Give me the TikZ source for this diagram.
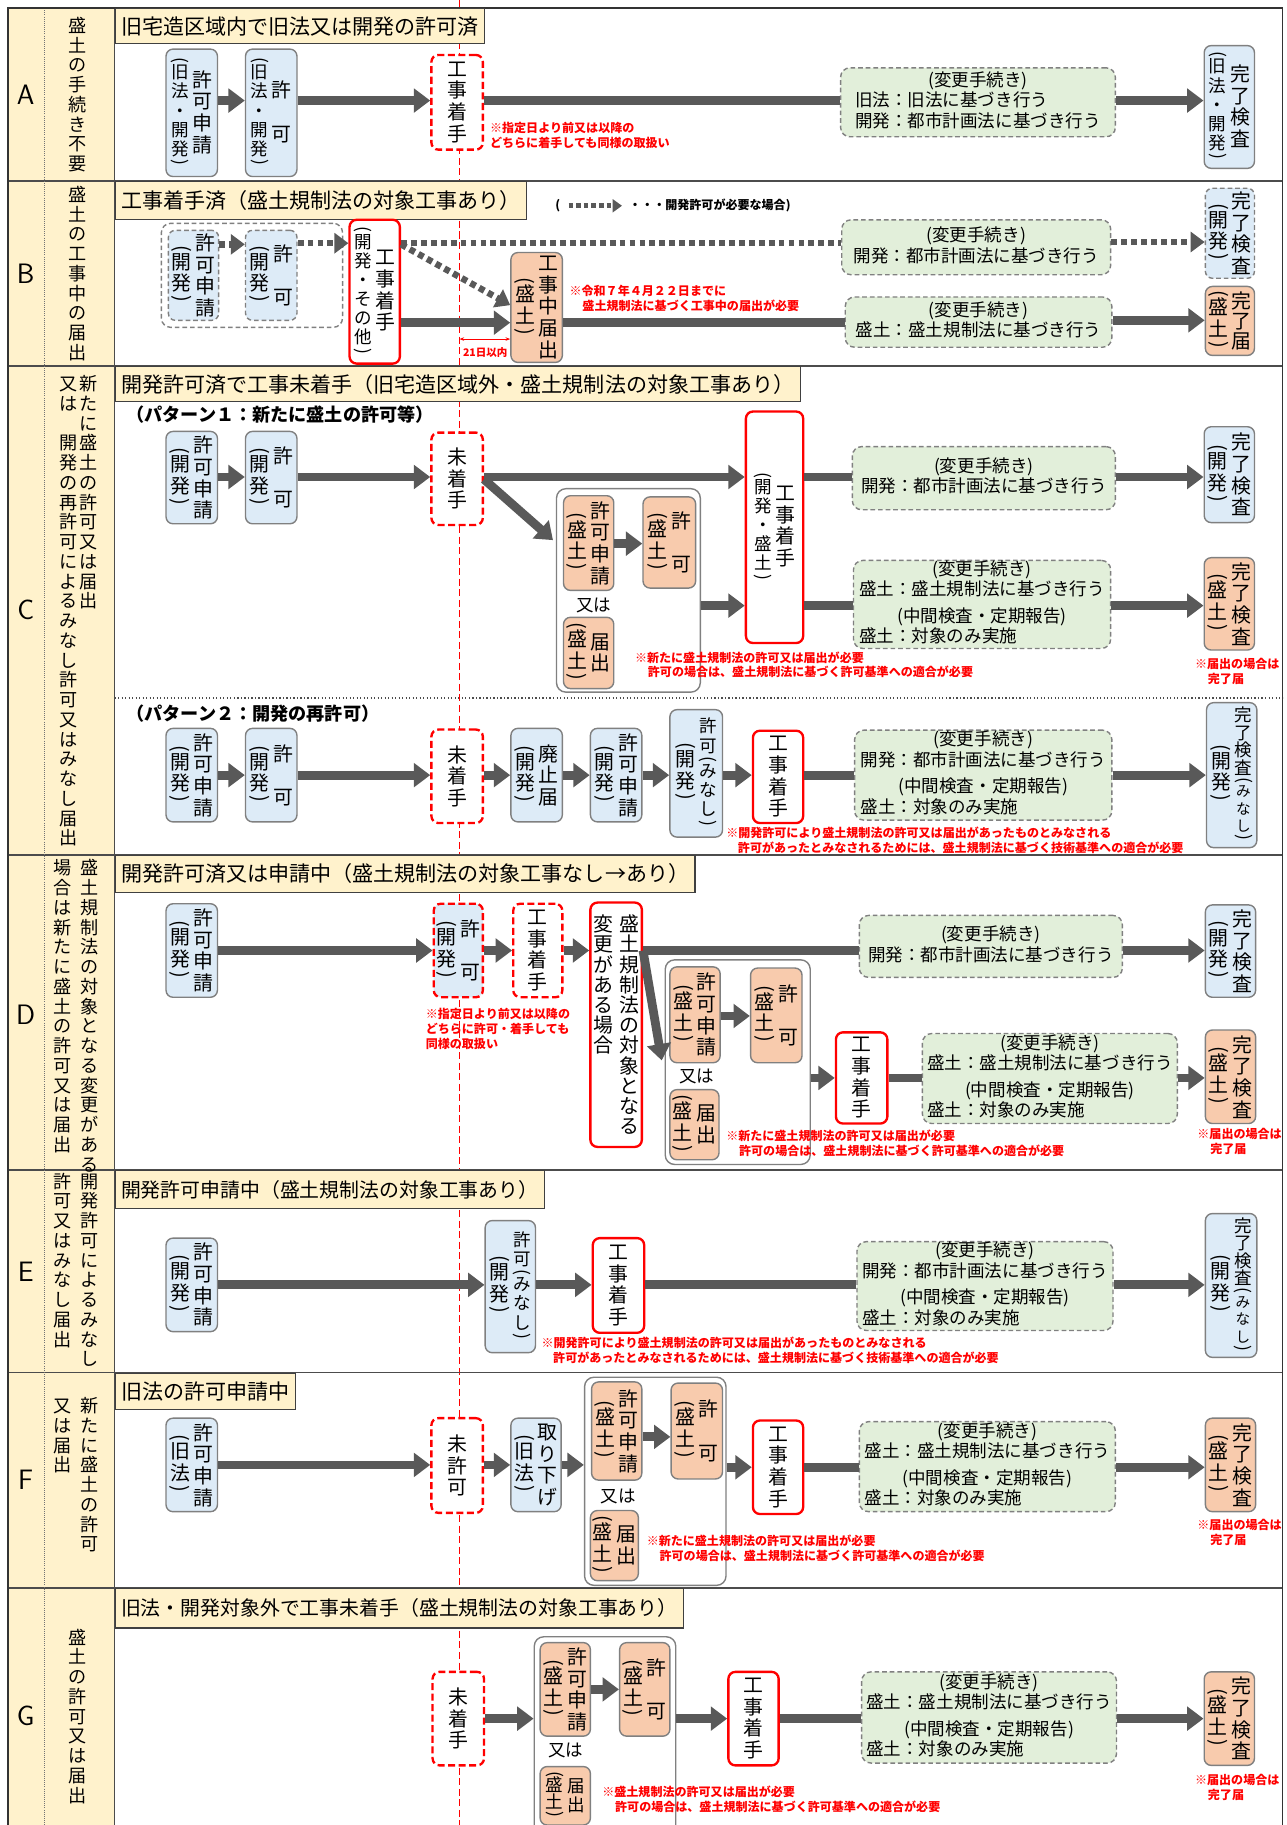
\documentclass[tikz,border=0pt]{standalone}
\usepackage{fontspec}
\setmainfont{Noto Sans CJK JP}
\usepackage{graphicx}
\usetikzlibrary{arrows.meta}

\definecolor{kaiblue}{RGB}{221,235,247}
\definecolor{moriorange}{RGB}{248,203,173}
\definecolor{chggreen}{RGB}{226,239,218}
\definecolor{headcream}{RGB}{255,242,204}
\definecolor{boxgray}{RGB}{128,128,128}
\definecolor{arrowgray}{RGB}{89,89,89}
\definecolor{notered}{RGB}{255,0,0}

\newcommand\boxfont{\fontsize{17}{18.5}\selectfont}
\newcommand\subsz{\fontsize{15}{16.4}\selectfont}
\newcommand\chgfont{\fontsize{15}{16.5}\selectfont}
\newcommand\hdrfont{\fontsize{18}{20}\selectfont}
\newcommand\notefont{\bfseries\fontsize{10.3}{12.8}\selectfont}
\newcommand\descfont{\fontsize{15.5}{16.9}\selectfont}
\newcommand\lettfont{\sffamily\fontsize{24}{24}\selectfont}
\newcommand\orfont{\fontsize{15}{15}\selectfont}
\newcommand\plabfont{\bfseries\fontsize{15.5}{17}\selectfont}

% vertical text: one character per row
\newcommand\vbody[2]{\baselineskip=#1\lineskip=0pt\lineskiplimit=-50pt%
  \let\\\cr\halign{\hfil##\hfil\cr#2\crcr}}
\newcommand\vcol[2][1.09em]{$\vcenter{\vbody{#1}{#2}}$}
\newcommand\vcolt[2][1.09em]{\vtop{\vbody{#1}{#2}}}
\newcommand\vlp{\rotatebox[origin=c]{-90}{(}\cr\noalign{\vskip-0.36em}}
\newcommand\vrp{\cr\noalign{\vskip-0.36em}\rotatebox[origin=c]{-90}{)}}
\newcommand\vlpi{\cr\noalign{\vskip-0.36em}\vlp}
\newcommand\smsz[1]{{\fontsize{12.5}{12.5}\selectfont #1}}

% green boxes
\newcommand\chgc[1]{\multicolumn{1}{@{}c@{}}{#1}}
\newcommand\chgtab[1]{\begin{tabular}{@{}l@{}}\chgc{(変更手続き)}\\#1\end{tabular}}
\newcommand\kailine{開発：都市計画法に基づき行う}
\newcommand\moriline{盛土：盛土規制法に基づき行う}
\newcommand\chukan{\\[5pt]\chgc{(中間検査・定期報告)}\\盛土：対象のみ実施}

% notes
\newcommand\notemori{※新たに盛土規制法の許可又は届出が必要\\\hspace*{11pt}許可の場合は、盛土規制法に基づく許可基準への適合が必要}
\newcommand\notekai{※開発許可により盛土規制法の許可又は届出があったものとみなされる\\\hspace*{10pt}許可があったとみなされるためには、盛土規制法に基づく技術基準への適合が必要}
\newcommand\notedone{※届出の場合は\\\hspace*{11pt}完了届}

\begin{document}
\begin{tikzpicture}[x=1pt, y=-1pt,
    box/.style={rounded corners=6pt, draw=boxgray, line width=1.2pt,
      minimum width=44pt, minimum height=80pt, inner sep=0pt, font=\boxfont},
    kai/.style={box, fill=kaiblue},
    kaid/.style={kai, dash pattern=on 4pt off 2.5pt},
    mori/.style={box, fill=moriorange},
    redbox/.style={box, draw=notered, line width=2pt, fill=white},
    reddash/.style={redbox, dash pattern=on 6pt off 3pt},
    kaired/.style={reddash, fill=kaiblue},
    chg/.style={rounded corners=8pt, draw=boxgray, line width=1.2pt,
      dash pattern=on 4pt off 2.5pt, fill=chggreen, inner sep=0pt, font=\chgfont},
    grp/.style={rounded corners=8pt, draw=boxgray, line width=1.2pt, fill=white},
    grpd/.style={rounded corners=8pt, draw=boxgray, line width=1.2pt,
      dash pattern=on 4pt off 2.5pt},
    hdr/.style={draw=black!75, line width=1pt, fill=headcream, anchor=north west,
      font=\hdrfont, inner xsep=5pt, minimum height=30pt},
    note/.style={text=notered, font=\notefont, align=left, anchor=north west, inner sep=0pt},
    desc/.style={font=\descfont, inner sep=0pt},
    lett/.style={font=\lettfont},
    orlab/.style={font=\orfont, inner sep=0pt},
    plab/.style={font=\plabfont, anchor=west, inner sep=0pt},
    flow/.style={draw=arrowgray, line width=7.5pt, -{Triangle[length=14pt,width=20pt]}},
    link/.style={draw=arrowgray, line width=7.5pt},
    dotlink/.style={draw=arrowgray, line width=5.5pt, dash pattern=on 5pt off 3.5pt},
    dotflow/.style={dotlink, -{Triangle[length=12pt,width=17pt]}},
    dotleg/.style={draw=arrowgray, line width=4pt, dash pattern=on 4pt off 2.5pt,
      -{Triangle[length=8pt,width=11pt]}, shorten <=7pt, shorten >=6pt},
    red21/.style={draw=notered, line width=0.8pt, {Stealth[length=4pt]}-{Stealth[length=4pt]}},
  ]
  \useasboundingbox (0,0) rectangle (1100,1561);

  % frame
  \fill[headcream] (7,7) rectangle (98,1561);
  \draw[notered, line width=1.2pt, dash pattern=on 6pt off 3pt] (393,0) -- (393,1561);
  \foreach \yy in {155,313,731,1001,1174,1358}
    \draw[black!70, line width=1.5pt] (7,\yy) -- (1097,\yy);
  \draw[black!55, densely dotted, line width=0.8pt] (38,7) -- (38,1561);
  \draw[black!70, dotted, line width=1pt] (98,597) -- (1097,597);
  \draw[black!70, line width=1.5pt] (98,7) -- (98,1561);
  \draw[black!80, line width=1.5pt] (7,7) rectangle (1097,1570);

  % left column
  \foreach \rowname/\rowy in {A/81,B/234,C/522,D/868,E/1088,F/1266,G/1468}
    \node[lett] (L\rowname) at (22,\rowy) {\rowname};
  \node[desc] (DA) at (66,81) {\vcol{盛\\土\\の\\手\\続\\き\\不\\要}};
  \node[desc] (DB) at (66,234) {\vcol{盛\\土\\の\\工\\事\\中\\の\\届\\出}};
  \node[desc, anchor=north] (DC) at (67,321)
    {\vcolt{又\\は\\　\\開\\発\\の\\再\\許\\可\\に\\よ\\る\\み\\な\\し\\許\\可\\又\\は\\み\\な\\し\\届\\出}\hspace{2pt}\vcolt{新\\た\\に\\盛\\土\\の\\許\\可\\又\\は\\届\\出}};
  \node[desc, anchor=north] (DD) at (65,735)
    {\vcolt{場\\合\\は\\新\\た\\に\\盛\\土\\の\\許\\可\\又\\は\\届\\出}\hspace{7pt}\vcolt{盛\\土\\規\\制\\法\\の\\対\\象\\と\\な\\る\\変\\更\\が\\あ\\る}};
  \node[desc, anchor=north] (DE) at (65,1003)
    {\vcolt{許\\可\\又\\は\\み\\な\\し\\届\\出}\hspace{7pt}\vcolt{開\\発\\許\\可\\に\\よ\\る\\み\\な\\し}};
  \node[desc, anchor=north] (DF) at (65,1195)
    {\vcolt{又\\は\\届\\出}\hspace{7pt}\vcolt{新\\た\\に\\盛\\土\\の\\許\\可}};
  \node[desc] (DG) at (66,1468) {\vcol{盛\\土\\の\\許\\可\\又\\は\\届\\出}};

  % headers
  \node[hdr] (hA) at (98,7) {旧宅造区域内で旧法又は開発の許可済};
  \node[hdr, minimum height=32pt] (hB) at (98,155) {工事着手済（盛土規制法の対象工事あり）};
  \node[hdr] (hC) at (98,313) {開発許可済で工事未着手（旧宅造区域外・盛土規制法の対象工事あり）};
  \node[hdr, minimum height=32pt] (hD) at (98,731) {開発許可済又は申請中（盛土規制法の対象工事なし→あり）};
  \node[hdr, minimum height=32pt, font=\fontsize{17}{19}\selectfont] (hE) at (98,1001) {開発許可申請中（盛土規制法の対象工事あり）};
  \node[hdr, minimum height=31pt] (hF) at (98,1174) {旧法の許可申請中};
  \node[hdr, minimum height=34pt, font=\fontsize{17}{19}\selectfont] (hG) at (98,1358) {旧法・開発対象外で工事未着手（盛土規制法の対象工事あり）};

  % --- A ---
  \node[kai, minimum height=109pt] (A1) at (164,96.5)
    {{\subsz\vcol{\vlp 旧\\法\\・\\開\\発\vrp}}\hspace{3pt}\vcol{許\\可\\申\\請}};
  \node[kai, minimum height=109pt] (A2) at (232,96.5)
    {{\subsz\vcol{\vlp 旧\\法\\・\\開\\発\vrp}}\hspace{3pt}\vcol{許\\　\\可}};
  \node[reddash, minimum height=81pt] (Ako) at (391,87.5) {\vcol{工\\事\\着\\手}};
  \node[chg, minimum width=235pt, minimum height=59pt] (Ag) at (836.5,87.5)
    {\chgtab{旧法：旧法に基づき行う\\\kailine}};
  \node[kai, minimum width=43pt, minimum height=105pt] (Ak) at (1051.5,91.5)
    {{\subsz\vcol{\vlp 旧\\法\\・\\開\\発\vrp}}\hspace{3pt}\vcol{完\\了\\検\\査}};
  \node[note] (nA) at (419,104) {※指定日より前又は以降の\\どちらに着手しても同様の取扱い};

  \draw[flow] (A1.east |- 0,86) -- (A2.west |- 0,86);
  \draw[flow] (A2.east |- 0,86) -- (Ako.west |- 0,86);
  \draw[link] (Ako.east |- 0,86) -- (Ag.west |- 0,86);
  \draw[flow] (Ag.east |- 0,86) -- (Ak.west |- 0,86);

  % --- B ---
  \node[inner sep=0pt, font=\notefont] (Blp) at (477,176) {(};
  \node[inner sep=0pt, font=\notefont, anchor=west] (Blt) at (538,176) {・・・開発許可が必要な場合)};
  \draw[dotleg] (Blp.east) -- (Blt.west);

  \node[grpd, minimum width=155pt, minimum height=89pt] (Bg) at (215.5,235.5) {};
  \node[kaid, minimum width=43pt, minimum height=77pt] (B1) at (165.5,235.5)
    {\vcol{\vlp 開\\発\vrp}\hspace{3pt}\vcol{許\\可\\申\\請}};
  \node[kaid, minimum height=77pt] (B2) at (232,235.5)
    {\vcol{\vlp 開\\発\vrp}\hspace{3pt}\vcol{許\\　\\可}};
  \node[redbox, minimum width=43pt, minimum height=123pt] (B3) at (320.5,249.5)
    {{\subsz\vcol{\vlp 開\\発\\・\\そ\\の\\他\vrp}}\hspace{3pt}\vcol{工\\事\\着\\手}};
  \node[mori, minimum height=94pt] (B4) at (459,263)
    {\vcol{\vlp 盛\\土\vrp}\hspace{3pt}\vcol{工\\事\\中\\届\\出}};
  \node[chg, minimum width=230pt, minimum height=47pt] (Bgt) at (835,211.5) {\chgtab{\kailine}};
  \node[chg, minimum width=228pt, minimum height=43pt] (Bgb) at (837,275.5) {\chgtab{\moriline}};
  \node[kaid, minimum width=42pt, minimum height=77pt] (Bk1) at (1052,199.5)
    {\vcol{\vlp 開\\発\vrp}\hspace{3pt}\vcol{完\\了\\検\\査}};
  \node[mori, minimum width=42pt, minimum height=59pt] (Bk2) at (1052,274.5)
    {\vcol{\vlp 盛\\土\vrp}\hspace{3pt}\vcol[17pt]{完\\了\\届}};
  \node[note] (nB) at (487,244) {※令和７年４月２２日までに\\\hspace*{11pt}盛土規制法に基づく工事中の届出が必要};
  \coordinate (B21) at (393,290);
  \node[note, anchor=north, font=\bfseries\fontsize{9}{10}\selectfont] (B21t) at (415,297) {21日以内};

  \draw[dotflow] (B1.east |- 0,209) -- (B2.west |- 0,209);
  \draw[dotflow] (B2.east |- 0,208) -- (B3.west |- 0,208);
  \draw[dotlink] (B3.east |- 0,208) -- (Bgt.west |- 0,208);
  \draw[dotflow] (Bgt.east |- 0,207) -- (Bk1.west |- 0,207);
  \draw[dotflow] (B3.east |- 0,209) -- (B4.west |- 0,261);
  \draw[flow] (B3.east |- 0,276) -- (B4.west |- 0,276);
  \draw[link] (B4.east |- 0,276) -- (Bgb.west |- 0,276);
  \draw[flow] (Bgb.east |- 0,274) -- (Bk2.west |- 0,274);
  \draw[red21] (B21) -- (B21 -| B4.west);

  % --- C pattern 1 ---
  \node[plab] (Cp1) at (108,355) {（パターン１：新たに盛土の許可等）};
  \node[kai, minimum height=79pt] (C1) at (164,408.5)
    {\vcol{\vlp 開\\発\vrp}\hspace{3pt}\vcol{許\\可\\申\\請}};
  \node[kai, minimum height=79pt] (C2) at (232,408.5)
    {\vcol{\vlp 開\\発\vrp}\hspace{3pt}\vcol{許\\　\\可}};
  \node[reddash, minimum height=79pt] (Cmi) at (391,409.5) {\vcol{未\\着\\手}};
  \node[grp, minimum width=123pt, minimum height=174pt] (Cg) at (537.5,505) {};
  \node[mori, minimum width=43pt, minimum height=81pt] (C3) at (503.5,464.5)
    {\vcol{\vlp 盛\\土\vrp}\hspace{3pt}\vcol{許\\可\\申\\請}};
  \node[mori, minimum width=45pt, minimum height=78pt] (C4) at (572.5,464)
    {\vcol{\vlp 盛\\土\vrp}\hspace{3pt}\vcol{許\\　\\可}};
  \node[orlab] (Cor) at (508,518) {又は};
  \node[mori, minimum width=43pt, minimum height=61pt] (C5) at (503.5,558.5)
    {\vcol{\vlp 盛\\土\vrp}\hspace{3pt}\vcol{届\\出}};
  \node[redbox, minimum width=49pt, minimum height=198pt] (C6) at (662.5,451)
    {{\subsz\vcol{\vlp 開\\発\\・\\盛\\土\vrp}}\hspace{3pt}\vcol{工\\事\\着\\手}};
  \node[chg, minimum width=225pt, minimum height=54pt] (Cgt) at (841.5,409) {\chgtab{\kailine}};
  \node[chg, minimum width=220pt, minimum height=72pt] (Cgb) at (840,517) {\chgtab{\moriline\chukan}};
  \node[kai, minimum width=43pt, minimum height=82pt] (Ck1) at (1051.5,406)
    {\vcol{\vlp 開\\発\vrp}\hspace{3pt}\vcol{完\\了\\検\\査}};
  \node[mori, minimum width=43pt, minimum height=79pt] (Ck2) at (1051.5,516.5)
    {\vcol{\vlp 盛\\土\vrp}\hspace{3pt}\vcol{完\\了\\検\\査}};
  \node[note] (nC1) at (543,557) {\notemori};
  \node[note] (nC2) at (1022,563) {\notedone};
  \coordinate (Cin) at (473,462);

  \draw[flow] (C1.east |- 0,408) -- (C2.west |- 0,408);
  \draw[flow] (C2.east |- 0,408) -- (Cmi.west |- 0,408);
  \draw[flow] (Cmi.east |- 0,408) -- (C6.west |- 0,408);
  \draw[flow] (Cmi.east |- 0,410) -- (Cin);
  \draw[flow] (C3.east |- 0,465) -- (C4.west |- 0,465);
  \draw[flow] (Cg.east |- 0,518) -- (C6.west |- 0,518);
  \draw[link] (C6.east |- 0,408) -- (Cgt.west |- 0,408);
  \draw[flow] (Cgt.east |- 0,408) -- (Ck1.west |- 0,408);
  \draw[link] (C6.east |- 0,518) -- (Cgb.west |- 0,518);
  \draw[flow] (Cgb.east |- 0,518) -- (Ck2.west |- 0,518);

  % --- C pattern 2 ---
  \node[plab] (Cp2) at (108,610) {（パターン２：開発の再許可）};
  \node[kai] (C7) at (164,663) {\vcol{\vlp 開\\発\vrp}\hspace{3pt}\vcol{許\\可\\申\\請}};
  \node[kai] (C8) at (232,663) {\vcol{\vlp 開\\発\vrp}\hspace{3pt}\vcol{許\\　\\可}};
  \node[reddash] (Cmi2) at (391,664) {\vcol{未\\着\\手}};
  \node[kai] (C9) at (459,663) {\vcol{\vlp 開\\発\vrp}\hspace{3pt}\vcol{廃\\止\\届}};
  \node[kai] (C10) at (527,663) {\vcol{\vlp 開\\発\vrp}\hspace{3pt}\vcol{許\\可\\申\\請}};
  \node[kai, minimum width=45pt, minimum height=109pt] (C11) at (595.5,661.5)
    {\vcol{\vlp 開\\発\vrp}\hspace{3pt}{\subsz\vcol{許\\可\vlpi み\\な\\し\vrp}}};
  \node[redbox, minimum width=43pt, minimum height=79pt] (C12) at (665.5,664.5) {\vcol{工\\事\\着\\手}};
  \node[chg, minimum width=220pt, minimum height=77pt] (Cg2) at (841,663) {\chgtab{\kailine\chukan}};
  \node[kai, minimum width=43pt, minimum height=124pt] (Ck3) at (1053.5,663)
    {\vcol{\vlp 開\\発\vrp}\hspace{3pt}{\subsz\vcol[15pt]{完\\了\\検\\査\vlpi\smsz{み}\\\smsz{な}\\\smsz{し}\vrp}}};
  \node[note] (nC3) at (621,707) {\notekai};

  \draw[flow] (C7.east |- 0,663) -- (C8.west |- 0,663);
  \draw[flow] (C8.east |- 0,663) -- (Cmi2.west |- 0,663);
  \draw[flow] (Cmi2.east |- 0,663) -- (C9.west |- 0,663);
  \draw[flow] (C9.east |- 0,663) -- (C10.west |- 0,663);
  \draw[flow] (C10.east |- 0,663) -- (C11.west |- 0,663);
  \draw[flow] (C11.east |- 0,663) -- (C12.west |- 0,663);
  \draw[link] (C12.east |- 0,663) -- (Cg2.west |- 0,663);
  \draw[flow] (Cg2.east |- 0,663) -- (Ck3.west |- 0,663);

  % --- D ---
  \node[kai] (D1) at (164,813) {\vcol{\vlp 開\\発\vrp}\hspace{3pt}\vcol{許\\可\\申\\請}};
  \node[kaired, minimum width=42pt] (D2) at (392,813) {\vcol{\vlp 開\\発\vrp}\hspace{3pt}\vcol{許\\　\\可}};
  \node[reddash, minimum width=42pt] (D3) at (460,813) {\vcol{工\\事\\着\\手}};
  \node[redbox, minimum height=209pt] (D4) at (527,876.5)
    {\vcolt[17.3pt]{変\\更\\が\\あ\\る\\場\\合}\hspace{5pt}\vcolt[17.3pt]{盛\\土\\規\\制\\法\\の\\対\\象\\と\\な\\る}};
  \node[chg, minimum width=225pt, minimum height=53pt] (Dgt) at (847.5,809.5) {\chgtab{\kailine}};
  \node[kai, minimum width=43pt, minimum height=79pt] (Dk1) at (1052.5,813.5)
    {\vcol{\vlp 開\\発\vrp}\hspace{3pt}\vcol{完\\了\\検\\査}};
  \node[grp, minimum width=124pt, minimum height=175pt] (Dg) at (631,908.5) {};
  \node[mori, minimum width=43pt, minimum height=82pt] (D5) at (594.5,868)
    {\vcol{\vlp 盛\\土\vrp}\hspace{3pt}\vcol{許\\可\\申\\請}};
  \node[mori, minimum height=81pt] (D6) at (664,868.5)
    {\vcol{\vlp 盛\\土\vrp}\hspace{3pt}\vcol{許\\　\\可}};
  \node[orlab] (Dor) at (596,921) {又は};
  \node[mori, minimum width=42pt, minimum height=60pt] (D7) at (594,962)
    {\vcol{\vlp 盛\\土\vrp}\hspace{3pt}\vcol{届\\出}};
  \node[redbox, minimum height=78pt] (D8) at (737,922) {\vcol{工\\事\\着\\手}};
  \node[chg, minimum width=218pt, minimum height=77pt] (Dgb) at (898,922.5) {\chgtab{\moriline\chukan}};
  \node[mori, minimum width=43pt] (Dk2) at (1052.5,921)
    {\vcol{\vlp 盛\\土\vrp}\hspace{3pt}\vcol{完\\了\\検\\査}};
  \node[note] (nD1) at (364,862) {※指定日より前又は以降の\\どちらに許可・着手しても\\同様の取扱い};
  \node[note] (nD2) at (621,966) {\notemori};
  \node[note] (nD3) at (1024,965) {\notedone};
  \coordinate (Din) at (566,907);

  \draw[flow] (D1.east |- 0,813) -- (D2.west |- 0,813);
  \draw[flow] (D2.east |- 0,813) -- (D3.west |- 0,813);
  \draw[flow] (D3.east |- 0,813) -- (D4.west |- 0,813);
  \draw[link] (D4.east |- 0,813) -- (Dgt.west |- 0,813);
  \draw[flow] (Dgt.east |- 0,813) -- (Dk1.west |- 0,813);
  \draw[flow] (D4.east |- 0,813) -- (Din);
  \draw[flow] (D5.east |- 0,869) -- (D6.west |- 0,869);
  \draw[flow] (Dg.east |- 0,922) -- (D8.west |- 0,922);
  \draw[link] (D8.east |- 0,922) -- (Dgb.west |- 0,922);
  \draw[flow] (Dgb.east |- 0,922) -- (Dk2.west |- 0,922);

  % --- E ---
  \node[kai] (E1) at (164,1099) {\vcol{\vlp 開\\発\vrp}\hspace{3pt}\vcol{許\\可\\申\\請}};
  \node[kai, minimum width=43pt, minimum height=113pt] (E2) at (436.5,1100.5)
    {\vcol{\vlp 開\\発\vrp}\hspace{3pt}{\subsz\vcol{許\\可\vlpi み\\な\\し\vrp}}};
  \node[redbox, minimum height=81pt] (E3) at (529,1099.5) {\vcol{工\\事\\着\\手}};
  \node[chg, minimum width=219pt, minimum height=76pt] (Eg) at (842.5,1100) {\chgtab{\kailine\chukan}};
  \node[kai, minimum height=123pt] (Ek) at (1053,1099.5)
    {\vcol{\vlp 開\\発\vrp}\hspace{3pt}{\subsz\vcol[15pt]{完\\了\\検\\査\vlpi\smsz{み}\\\smsz{な}\\\smsz{し}\vrp}}};
  \node[note] (nE) at (463,1143) {\notekai};

  \draw[flow] (E1.east |- 0,1099) -- (E2.west |- 0,1099);
  \draw[flow] (E2.east |- 0,1099) -- (E3.west |- 0,1099);
  \draw[link] (E3.east |- 0,1099) -- (Eg.west |- 0,1099);
  \draw[flow] (Eg.east |- 0,1099) -- (Ek.west |- 0,1099);

  % --- F ---
  \node[kai] (F1) at (164,1253) {\vcol{\vlp 旧\\法\vrp}\hspace{3pt}\vcol{許\\可\\申\\請}};
  \node[reddash, minimum height=81pt] (Fmi) at (391,1253.5) {\vcol{未\\許\\可}};
  \node[kai, minimum width=43pt] (F2) at (458.5,1253) {\vcol{\vlp 旧\\法\vrp}\hspace{3pt}\vcol{取\\り\\下\\げ}};
  \node[grp, minimum width=121pt, minimum height=178pt] (Fg) at (560.5,1267) {};
  \node[mori, minimum width=43pt, minimum height=84pt] (F3) at (527.5,1224)
    {\vcol{\vlp 盛\\土\vrp}\hspace{3pt}\vcol{許\\可\\申\\請}};
  \node[mori, minimum height=82pt] (F4) at (596,1224)
    {\vcol{\vlp 盛\\土\vrp}\hspace{3pt}\vcol{許\\　\\可}};
  \node[orlab] (For) at (529,1280) {又は};
  \node[mori, minimum width=41pt, minimum height=60pt] (F5) at (525.5,1322)
    {\vcol{\vlp 盛\\土\vrp}\hspace{3pt}\vcol{届\\出}};
  \node[redbox, minimum width=43pt] (F6) at (665.5,1255) {\vcol{工\\事\\着\\手}};
  \node[chg, minimum width=219pt, minimum height=77pt] (Fg2) at (844.5,1254.5) {\chgtab{\moriline\chukan}};
  \node[mori, minimum width=43pt] (Fk) at (1052.5,1253)
    {\vcol{\vlp 盛\\土\vrp}\hspace{3pt}\vcol{完\\了\\検\\査}};
  \node[note] (nF1) at (553,1313) {\notemori};
  \node[note] (nF2) at (1024,1299) {\notedone};

  \draw[flow] (F1.east |- 0,1253) -- (Fmi.west |- 0,1253);
  \draw[flow] (Fmi.east |- 0,1253) -- (F2.west |- 0,1253);
  \draw[flow] (F2.east |- 0,1253) -- (Fg.west |- 0,1253);
  \draw[flow] (F3.east |- 0,1229) -- (F4.west |- 0,1229);
  \draw[flow] (Fg.east |- 0,1255) -- (F6.west |- 0,1255);
  \draw[link] (F6.east |- 0,1255) -- (Fg2.west |- 0,1255);
  \draw[flow] (Fg2.east |- 0,1255) -- (Fk.west |- 0,1255);

  % --- G ---
  \node[reddash] (Gmi) at (392,1470) {\vcol{未\\着\\手}};
  \node[grp, minimum width=121pt, minimum height=170pt] (Gg) at (517.5,1485) {};
  \node[mori, minimum width=43pt] (G1) at (483.5,1445)
    {\vcol{\vlp 盛\\土\vrp}\hspace{3pt}\vcol{許\\可\\申\\請}};
  \node[mori, minimum width=43pt] (G2) at (551.5,1445)
    {\vcol{\vlp 盛\\土\vrp}\hspace{3pt}\vcol{許\\　\\可}};
  \node[orlab] (Gor) at (484,1497) {又は};
  \node[mori, minimum width=43pt, minimum height=50pt] (G3) at (483.5,1536)
    {{\subsz\vcol[15pt]{\vlp 盛\\土\vrp}}\hspace{3pt}{\subsz\vcol[16pt]{届\\出}}};
  \node[redbox, minimum width=43pt] (G4) at (644.5,1470) {\vcol{工\\事\\着\\手}};
  \node[chg, minimum width=218pt, minimum height=78pt] (Gg2) at (846,1469) {\chgtab{\moriline\chukan}};
  \node[mori, minimum width=43pt] (Gk) at (1051.5,1470)
    {\vcol{\vlp 盛\\土\vrp}\hspace{3pt}\vcol{完\\了\\検\\査}};
  \node[note] (nG1) at (515,1527) {※盛土規制法の許可又は届出が必要\\\hspace*{11pt}許可の場合は、盛土規制法に基づく許可基準への適合が必要};
  \node[note] (nG2) at (1022,1517) {\notedone};

  \draw[flow] (Gmi.east |- 0,1470) -- (Gg.west |- 0,1470);
  \draw[flow] (G1.east |- 0,1445) -- (G2.west |- 0,1445);
  \draw[flow] (Gg.east |- 0,1470) -- (G4.west |- 0,1470);
  \draw[link] (G4.east |- 0,1470) -- (Gg2.west |- 0,1470);
  \draw[flow] (Gg2.east |- 0,1470) -- (Gk.west |- 0,1470);
\end{tikzpicture}
\end{document}
